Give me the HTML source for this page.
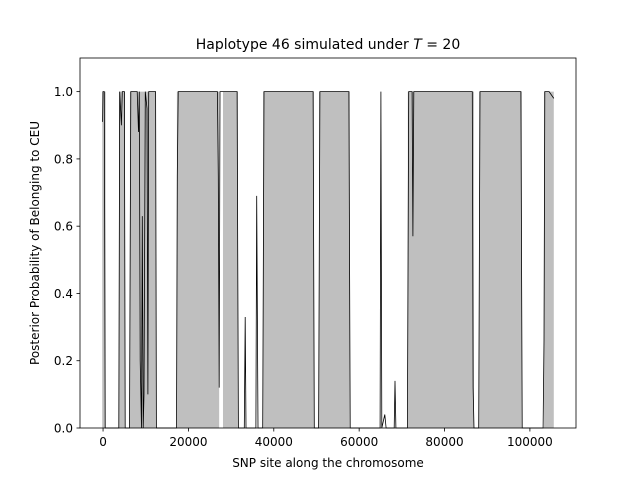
<!DOCTYPE html>
<html><head><meta charset="utf-8"><style>
body{margin:0;background:#fff;}
svg text{font-family:"DejaVu Sans","Liberation Sans",sans-serif;fill:#000;}
</style></head><body>
<svg id="chart" width="640" height="480" xmlns="http://www.w3.org/2000/svg">
<rect width="640" height="480" fill="#fff"/>
<g id="fills"></g>
<g id="lines"></g>
<rect x="80" y="58" width="496" height="370" fill="none" stroke="#000" stroke-width="0.8"/>
<g id="xticks"></g>
<g id="yticks"></g>
<text x="328" y="49" font-size="14" text-anchor="middle">Haplotype 46 simulated under <tspan font-style="italic">T</tspan> =  20</text>
<text x="328" y="467" font-size="12" text-anchor="middle">SNP site along the chromosome</text>
<text transform="translate(39,243) rotate(-90)" font-size="12" text-anchor="middle">Posterior Probability of Belonging to CEU</text>
</svg>
<script>
const spanStarts=[-200,3750,6300,17300,28100,37500,50600,71400,88100,103300];
const spanEnds=[600,5150,12400,27200,31600,49400,57800,86900,98100,105600];
const posX=[
-100,0,300,500,
3700,3900,4300,4500,5000,5200,
6200,6500,8000,8300,8500,8700,9000,9200,9400,9600,9900,10300,10500,10700,12300,12500,
17200,17400,17600,26800,27000,27200,27400,31400,31700,
33100,33300,33500,35800,36000,36300,
37400,37700,49200,49500,
50500,50800,57600,57900,
64900,65100,65300,66000,66300,68200,68400,68600,
71300,71600,72400,72600,72800,86500,86700,86900,
88000,88300,97900,98200,
103100,103300,103500,104500,105600];
const posY=[
0.91,1,1,0,
0,1,0.9,1,1,0,
0,1,1,0.88,1,0.2,0,0.63,0,0.1,1,0.95,0.1,1,1,0,
0,0.75,1,1,0.75,0.12,1,1,0,
0,0.33,0,0,0.69,0,
0,1,1,0,
0,1,1,0,
0,1,0,0.04,0,0,0.14,0,
0,1,1,0.57,1,1,0.12,0,
0,1,1,0,
0,0.26,1,1,0.98];
const yTicks=[0,0.2,0.4,0.6,0.8,1.0];
const xTicks=[0,20000,40000,60000,80000,100000];
const NS="http://www.w3.org/2000/svg";
const X0=80,X1=576,Y0=428,Y1=58,XMIN=-5400,XMAX=110800,YMIN=0,YMAX=1.1;
function sx(v){return X0+(v-XMIN)/(XMAX-XMIN)*(X1-X0);}
function sy(v){return Y0-(v-YMIN)/(YMAX-YMIN)*(Y0-Y1);}
function mk(t,a){const e=document.createElementNS(NS,t);for(const k in a)e.setAttribute(k,a[k]);return e;}
const fills=document.getElementById('fills');
for(let i=0;i<spanStarts.length;i++){
 const r=mk('rect',{x:sx(spanStarts[i]),y:sy(1),width:sx(spanEnds[i])-sx(spanStarts[i]),height:sy(0)-sy(1),fill:'#bfbfbf'});
 
 
 fills.appendChild(r);
}
let d='';
const n=Math.min(posX.length,posY.length);
for(let i=0;i<n;i++){d+=(i?'L':'M')+sx(posX[i]).toFixed(1)+','+sy(posY[i]).toFixed(1);}
const p=mk('path',{d:d,fill:'none',stroke:'#000','stroke-width':0.8});


document.getElementById('lines').appendChild(p);
const xg=document.getElementById('xticks');
xTicks.forEach(v=>{
 const l=mk('line',{x1:sx(v),x2:sx(v),y1:428,y2:431.5,stroke:'#000','stroke-width':0.8});
 
 
 xg.appendChild(l);
 const t=mk('text',{x:sx(v),y:446,'font-size':12,'text-anchor':'middle'});
 t.textContent=String(v);
 
 
 xg.appendChild(t);
});
const yg=document.getElementById('yticks');
yTicks.forEach(v=>{
 const l=mk('line',{x1:76.5,x2:80,y1:sy(v),y2:sy(v),stroke:'#000','stroke-width':0.8});
 
 
 yg.appendChild(l);
 const t=mk('text',{x:73,y:sy(v)+4.5,'font-size':12,'text-anchor':'end'});
 t.textContent=v.toFixed(1);
 
 
 yg.appendChild(t);
});
</script>
</body></html>
